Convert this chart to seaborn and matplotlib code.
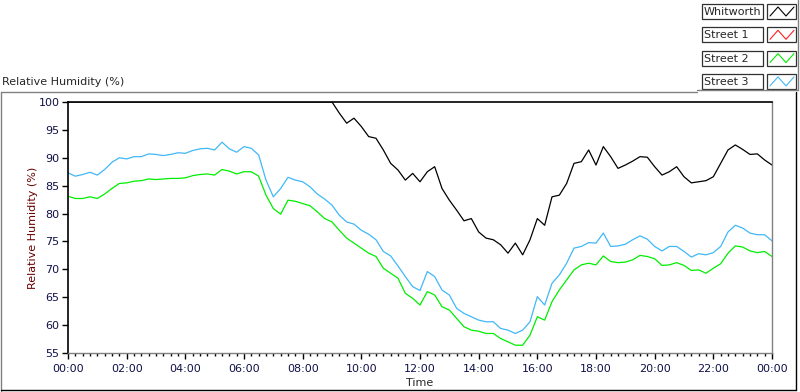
import numpy as np
import pandas as pd
import matplotlib
matplotlib.use('Agg')
import matplotlib.pyplot as plt
import seaborn as sns
from matplotlib.lines import Line2D
from matplotlib.patches import Rectangle
from matplotlib.ticker import MultipleLocator, FuncFormatter

# Tiempo en horas desde medianoche, cada 15 minutos
hours = np.arange(0, 24.01, 0.25)

whitworth = [
    100.0, 100.0, 100.0, 100.0, 100.0, 100.0, 100.0, 100.0, 100.0, 100.0,
    100.0, 100.0, 100.0, 100.0, 100.0, 100.0, 100.0, 100.0, 100.0, 100.0,
    100.0, 100.0, 100.0, 100.0, 100.0, 100.0, 100.0, 100.0, 100.0, 100.0,
    100.0, 100.0, 100.0, 100.0, 100.0, 100.0, 100.0,
    98.0, 96.2, 97.1, 95.6, 93.8, 93.5, 91.4, 89.0, 87.8, 86.0, 87.2, 85.7,
    87.5, 88.4, 84.5, 82.4, 80.6, 78.7, 79.1, 76.7, 75.6, 75.3, 74.4, 72.9,
    74.7, 72.6, 75.3, 79.1, 77.9, 83.0, 83.3, 85.4, 89.0, 89.3, 91.4, 88.7,
    92.0, 90.2, 88.1, 88.7, 89.4, 90.2, 90.1, 88.4, 86.9, 87.5, 88.4, 86.6,
    85.5, 85.7, 85.9, 86.6, 89.0, 91.4, 92.3, 91.5, 90.6, 90.7, 89.6, 88.7,
]

street1 = []  # sin datos en la gráfica

street2 = [
    83.1, 82.7, 82.7, 83.0, 82.7, 83.5, 84.5, 85.4, 85.5, 85.8, 85.9, 86.2,
    86.1, 86.2, 86.3, 86.3, 86.4, 86.8, 87.0, 87.1, 86.9, 87.9, 87.6, 87.1, 87.5,
    87.5, 86.7, 83.3, 80.9, 79.9, 82.4, 82.2, 81.8, 81.4, 80.3, 79.1, 78.5,
    77.0, 75.6, 74.7, 73.8, 72.9, 72.3, 70.2, 69.3, 68.4, 65.7, 64.8, 63.6,
    66.0, 65.4, 63.3, 62.7, 61.2, 59.7, 59.1, 58.9, 58.5, 58.5, 57.6, 57.0,
    56.4, 56.4, 58.2, 61.5, 60.9, 64.2, 66.3, 68.1, 69.9, 70.8, 71.1, 70.8,
    72.4, 71.4, 71.2, 71.3, 71.7, 72.5, 72.3, 71.9, 70.7, 70.8, 71.2, 70.7,
    69.8, 69.9, 69.3, 70.2, 71.0, 72.9, 74.2, 74.0, 73.3, 73.0, 73.2, 72.3,
]

street3 = [
    87.3, 86.7, 87.0, 87.4, 86.9, 87.9, 89.2, 90.0, 89.8, 90.2, 90.2, 90.7,
    90.6, 90.4, 90.6, 90.9, 90.8, 91.3, 91.6, 91.7, 91.4, 92.8, 91.6, 91.0, 92.0,
    91.7, 90.5, 86.0, 83.0, 84.5, 86.5, 86.0, 85.7, 84.8, 83.5, 82.6, 81.5,
    79.7, 78.5, 78.1, 77.0, 76.3, 75.3, 73.2, 72.4, 70.6, 68.7, 66.9, 66.2,
    69.6, 68.7, 66.3, 65.4, 63.0, 62.1, 61.5, 60.9, 60.6, 60.6, 59.4, 59.1,
    58.5, 59.1, 60.6, 65.1, 63.6, 67.5, 69.0, 71.1, 73.8, 74.1, 74.8, 74.7,
    76.5, 74.1, 74.2, 74.5, 75.3, 76.0, 75.4, 74.1, 73.3, 74.1, 74.1, 73.2,
    72.2, 72.8, 72.6, 73.0, 74.1, 76.7, 77.9, 77.4, 76.5, 76.2, 76.2, 75.1,
]

names = ['Whitworth', 'Street 1', 'Street 2', 'Street 3']
colores = {'Whitworth': '#000000', 'Street 1': '#FF2020',
           'Street 2': '#00EE00', 'Street 3': '#40B8F8'}

df = pd.concat([
    pd.DataFrame({'Time': hours, 'RH': whitworth, 'Serie': 'Whitworth'}),
    pd.DataFrame({'Time': hours, 'RH': street2, 'Serie': 'Street 2'}),
    pd.DataFrame({'Time': hours, 'RH': street3, 'Serie': 'Street 3'}),
])

sns.set_style('white')
plt.rcParams['font.family'] = ['DejaVu Sans']

W, H = 800, 392
fig = plt.figure(figsize=(W / 100, H / 100), dpi=100)
ax = fig.add_axes([68 / W, 1 - 353 / H, (772 - 68) / W, (353 - 102) / H])

sns.lineplot(data=df, x='Time', y='RH', hue='Serie', palette=colores,
             hue_order=['Street 3', 'Street 2', 'Whitworth'],
             linewidth=0.9, legend=False, ax=ax, estimator=None,
             sort=False)

ax.set_xlim(0, 24)
ax.set_ylim(55, 100)
ax.xaxis.set_major_locator(MultipleLocator(2))
ax.xaxis.set_minor_locator(MultipleLocator(0.25))
ax.xaxis.set_major_formatter(FuncFormatter(lambda v, p: '%02d:00' % (int(round(v)) % 24)))
ax.yaxis.set_major_locator(MultipleLocator(5))
ax.tick_params(axis='both', which='major', direction='out', length=4, width=1,
               color='black', labelsize=8, labelcolor='#10104a', pad=2)
ax.tick_params(axis='x', which='major', pad=4)
ax.tick_params(axis='x', which='minor', direction='out', length=2.5, width=1,
               color='black')
ax.tick_params(bottom=True, left=True, which='both')
ax.tick_params(axis='y', which='minor', left=False)

ax.set_xlabel('Time', fontsize=8, va='center')
ax.xaxis.set_label_coords(0.5, (353 - 383) / 251)
ax.set_ylabel('Relative Humidity (%)', fontsize=8, color='#6a0000', va='center')
ax.yaxis.set_label_coords((33 - 68) / 704, 0.5)

for lado, c in [('left', 'black'), ('top', 'black'), ('right', '#808080'), ('bottom', '#808080')]:
    ax.spines[lado].set_visible(True)
    ax.spines[lado].set_color(c)
    ax.spines[lado].set_linewidth(1.2 if c == 'black' else 1.0)


def px(x, y):
    return x / W, 1 - y / H


# Marco del panel
for (x0, y0), (x1, y1), c in [((1, 92), (697, 92), '#808080'),
                              ((1, 92), (1, 391), '#808080'),
                              ((1, 390), (796, 390), 'black'),
                              ((796, 92), (796, 390), 'black'),
                              ((697, 90), (798, 90), '#808080'),
                              ((798, 0), (798, 90), '#808080')]:
    a, b = px(x0, y0)
    c2, d = px(x1, y1)
    fig.add_artist(Line2D([a, c2], [b, d], color=c, lw=1.0))

fig.text(*px(2, 82), 'Relative Humidity (%)', fontsize=8, va='center', ha='left')

# Leyenda estilo LabVIEW
for i, nombre in enumerate(names):
    top = 4 + i * 23.3
    bx, by = px(702, top + 15)
    fig.add_artist(Rectangle((bx, by), 61 / W, 15 / H, fill=False,
                             edgecolor='#303030', lw=0.9))
    fig.text(*px(704, top + 8), nombre, fontsize=8, va='center', ha='left')
    sx, sy = px(767, top + 15)
    fig.add_artist(Rectangle((sx, sy), 29 / W, 15 / H, fill=False,
                             edgecolor='#303030', lw=0.9))
    zx = [770, 778, 786, 794]
    zy = [top + 12, top + 3, top + 12, top + 3]
    pts = [px(a, b) for a, b in zip(zx, zy)]
    fig.add_artist(Line2D([p[0] for p in pts], [p[1] for p in pts],
                          color=colores[nombre], lw=0.8))

fig.savefig('out.png', dpi=100)
